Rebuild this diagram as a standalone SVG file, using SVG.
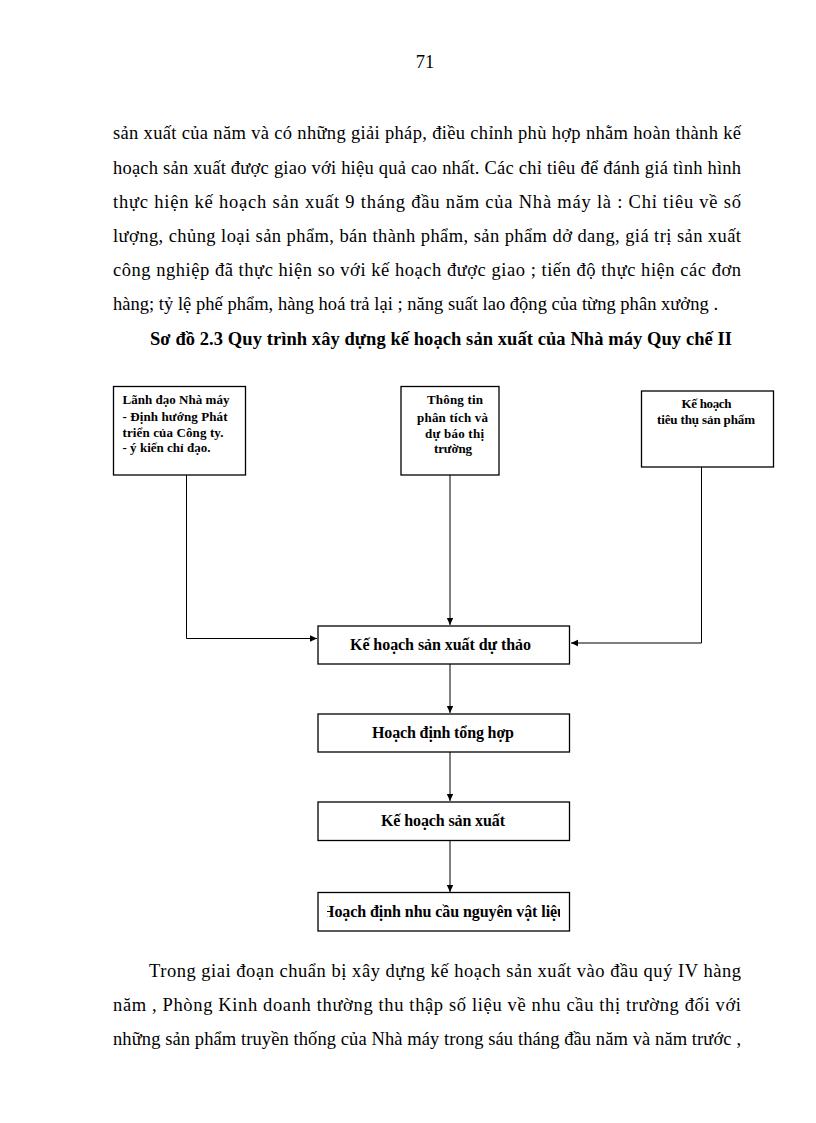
<svg xmlns="http://www.w3.org/2000/svg" width="816" height="1123" viewBox="0 0 816 1123">
<style>
.body{font-family:"Liberation Serif","Times New Roman",serif;font-size:18.5px;fill:#000}
.title{font-family:"Liberation Serif","Times New Roman",serif;font-size:18.5px;font-weight:bold;fill:#000}
.bx{fill:#fff;stroke:#000;stroke-width:1.3}
.t12{font-family:"Liberation Serif","Times New Roman",serif;font-size:13px;font-weight:bold;fill:#000}
.t15{font-family:"Liberation Serif","Times New Roman",serif;font-size:16px;font-weight:bold;fill:#000}
.con{fill:none;stroke:#000;stroke-width:1}
</style>
<defs>
<marker id="ah" markerUnits="userSpaceOnUse" markerWidth="8" markerHeight="8" refX="7" refY="4" orient="auto">
<path d="M0,0.8 L7,4 L0,7.2 Z" fill="#000"/>
</marker>
<clipPath id="clipLast"><rect x="327" y="893" width="233" height="38"/></clipPath>
</defs>
<rect width="816" height="1123" fill="#fff"/>

<g id="page-text">
<text class="body" x="425" y="68" text-anchor="middle">71</text>
<text class="body" x="113" y="139" textLength="628" lengthAdjust="spacing">sản xuất của năm và có những giải pháp, điều chỉnh  phù hợp nhằm hoàn thành kế</text>
<text class="body" x="113" y="173.5" textLength="628" lengthAdjust="spacing">hoạch sản xuất được giao với hiệu quả cao nhất. Các chỉ tiêu để đánh giá tình hình</text>
<text class="body" x="113" y="208" textLength="628" lengthAdjust="spacing">thực hiện kế hoạch sản xuất 9 tháng đầu năm của Nhà máy là : Chỉ tiêu về số</text>
<text class="body" x="113" y="242" textLength="628" lengthAdjust="spacing">lượng, chủng loại sản phẩm, bán thành phẩm, sản phẩm dở dang, giá trị sản xuất</text>
<text class="body" x="113" y="276" textLength="628" lengthAdjust="spacing">công nghiệp đã thực hiện so với kế hoạch được giao ; tiến độ thực hiện các đơn</text>
<text class="body" x="113" y="310" textLength="605" lengthAdjust="spacing">hàng; tỷ lệ phế phẩm, hàng hoá trả lại ; năng suất lao động của từng phân xưởng .</text>
<text class="title" x="150" y="345" textLength="582" lengthAdjust="spacing">Sơ đồ 2.3 Quy trình xây dựng kế hoạch sản xuất của Nhà máy Quy chế II</text>
<text class="body" x="149" y="977" textLength="592" lengthAdjust="spacing">Trong giai đoạn chuẩn bị xây dựng kế hoạch sản xuất vào đầu quý IV hàng</text>
<text class="body" x="113" y="1011" textLength="628" lengthAdjust="spacing">năm , Phòng Kinh doanh thường thu thập số liệu về nhu cầu thị trường đối với</text>
<text class="body" x="113" y="1045" textLength="628" lengthAdjust="spacing">những sản phẩm truyền thống của Nhà máy trong sáu tháng đầu năm và năm trước ,</text>
</g>

<g id="connectors">
<polyline class="con" points="186.5,475 186.5,638.5 317,638.5" marker-end="url(#ah)"/>
<line class="con" x1="450" y1="475" x2="450" y2="625" marker-end="url(#ah)"/>
<polyline class="con" points="701.5,467 701.5,643 571,643" marker-end="url(#ah)"/>
<line class="con" x1="450" y1="664" x2="450" y2="713" marker-end="url(#ah)"/>
<line class="con" x1="450" y1="752" x2="450" y2="801" marker-end="url(#ah)"/>
<line class="con" x1="450" y1="841" x2="450" y2="892" marker-end="url(#ah)"/>
</g>

<g id="node-lanh-dao">
<rect class="bx" x="113.5" y="386.5" width="132" height="88.5"/>
<text class="t12" x="122.5" y="403.5" textLength="107" lengthAdjust="spacing">Lãnh đạo Nhà máy</text>
<text class="t12" x="122.5" y="420.5" textLength="105" lengthAdjust="spacing">- Định hướng Phát</text>
<text class="t12" x="122.5" y="436.5" textLength="101" lengthAdjust="spacing">triển của Công ty.</text>
<text class="t12" x="122.5" y="452" textLength="88" lengthAdjust="spacing">- ý kiến chỉ đạo.</text>
</g>

<g id="node-thong-tin">
<rect class="bx" x="401" y="386.5" width="98" height="88.5"/>
<text class="t12" x="455" y="403.5" text-anchor="middle" textLength="56" lengthAdjust="spacing">Thông tin</text>
<text class="t12" x="452.5" y="421.5" text-anchor="middle" textLength="71" lengthAdjust="spacing">phân tích và</text>
<text class="t12" x="454.5" y="438" text-anchor="middle" textLength="59" lengthAdjust="spacing">dự báo thị</text>
<text class="t12" x="453" y="452.5" text-anchor="middle" textLength="38" lengthAdjust="spacing">trường</text>
</g>

<g id="node-tieu-thu">
<rect class="bx" x="641.5" y="391" width="132" height="76"/>
<text class="t12" x="706.5" y="408" text-anchor="middle" textLength="50" lengthAdjust="spacing">Kế hoạch</text>
<text class="t12" x="706" y="424" text-anchor="middle" textLength="98" lengthAdjust="spacing">tiêu thụ sản phẩm</text>
</g>

<g id="node-du-thao">
<rect class="bx" x="318" y="626" width="251.5" height="38"/>
<text class="t15" x="440.5" y="649.5" text-anchor="middle" textLength="181" lengthAdjust="spacing">Kế hoạch  sản xuất dự thảo</text>
</g>

<g id="node-tong-hop">
<rect class="bx" x="318" y="714" width="251.5" height="38"/>
<text class="t15" x="443" y="737.5" text-anchor="middle" textLength="142" lengthAdjust="spacing">Hoạch định tổng hợp</text>
</g>

<g id="node-ke-hoach">
<rect class="bx" x="318" y="802" width="251.5" height="38.5"/>
<text class="t15" x="443" y="825.5" text-anchor="middle" textLength="124" lengthAdjust="spacing">Kế hoạch sản xuất</text>
</g>

<g id="node-nguyen-vat-lieu">
<rect class="bx" x="318" y="892.5" width="251.5" height="38.5"/>
<g clip-path="url(#clipLast)">
<text class="t15" x="444" y="916.5" text-anchor="middle" textLength="244" lengthAdjust="spacing">Hoạch định nhu cầu nguyên vật liệu</text>
</g>
</g>
</svg>
